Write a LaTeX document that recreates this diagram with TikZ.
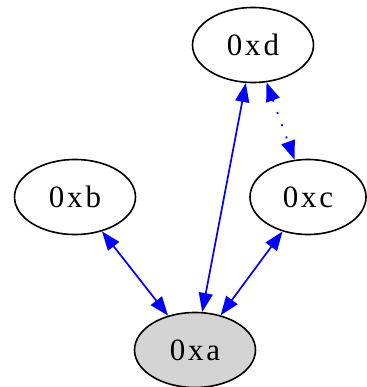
\documentclass[tikz,border=0pt]{standalone}
\usepackage{fontspec}
\newfontfamily\nodefont[LetterSpace=9]{Liberation Serif}
\usetikzlibrary{shapes.geometric, arrows.meta, positioning, calc}

\begin{document}
\begin{tikzpicture}[x=1pt, y=-1pt,
    addr/.style={draw, ellipse, line width=1.6pt, inner sep=0pt,
        minimum width=121pt, minimum height=75pt,
        font=\nodefont\fontsize{31}{33}\selectfont},
    link/.style={blue, line width=1.7pt,
        {Triangle[length=19pt, width=14pt]}-{Triangle[length=19pt, width=14pt]}},
    weak/.style={link, dash pattern=on 2pt off 11pt}]
\useasboundingbox (0,0) rectangle (366,387);
% address nodes
\node[addr] (d) at (253,45) {0xd};
\node[addr] (b) at (75,197) {0xb};
\node[addr, minimum width=116pt] (c) at (308,197) {0xc};
\node[addr, fill=black!17] (a) at (195,350) {0xa};
% links
\draw[link] (b) -- (a);
\draw[link] (d) -- (a);
\draw[link] (c) -- (a);
\draw[weak] (d) -- (c);
\end{tikzpicture}
\end{document}
